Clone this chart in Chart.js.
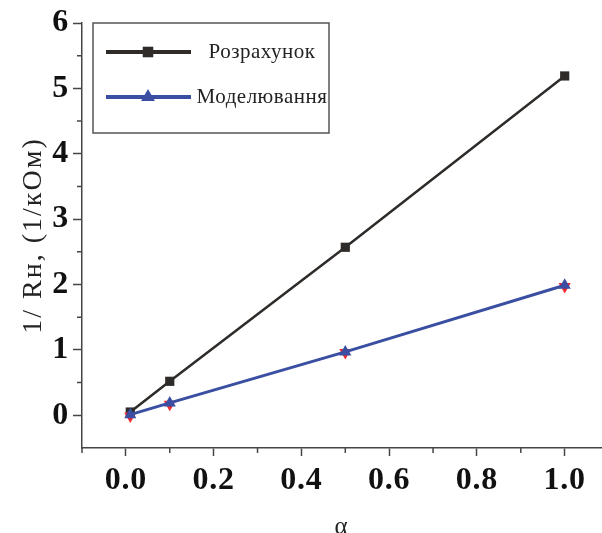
<!DOCTYPE html>
<html>
<head>
<meta charset="utf-8">
<script src="https://cdn.jsdelivr.net/npm/chart.js@4.4.1/dist/chart.umd.min.js"></script>
<style>
html, body { margin: 0; padding: 0; background: #fff; overflow: hidden; }
</style>
</head>
<body>
<canvas id="chart" width="602" height="533"></canvas>
<script>
// values
var alphas = [0.01, 0.1, 0.5, 1.0];
var calcValues = [0.05, 0.52, 2.57, 5.19];
var modelValues = [0.01, 0.19, 0.97, 1.99];
var modelValues2 = [-0.01, 0.17, 0.96, 1.97];
var xTicks = [0, 0.2, 0.4, 0.6, 0.8, 1.0];
var yTicks = [0, 1, 2, 3, 4, 5, 6];
var xMinorTicks = [-0.1, 0.1, 0.3, 0.5, 0.7, 0.9];
var yMinorTicks = [0.5, 1.5, 2.5, 3.5, 4.5, 5.5];
var seriesNames = ["Розрахунок", "Моделювання"];

function toPoints(xs, ys)
{
    var pts = [];
    for (var i = 0; i < xs.length; i++)
    {
        pts.push({x: xs[i], y: ys[i]});
    }
    return pts;
}

var axisColor = "#454545";
var serif = "'Liberation Serif', 'DejaVu Serif', serif";

// the original text is a bit wider than Liberation Serif
var wideText = {
    id: 'wideText',
    beforeDraw: function(chart) { chart.ctx.letterSpacing = "2px"; },
    beforeDatasetsDraw: function(chart) { chart.ctx.letterSpacing = "0px"; }
};

// tick labels get less spacing than the titles
function widenLabels(scale)
{
    if (scale._widened) return;
    scale._widened = true;
    var orig = scale.drawLabels;
    scale.drawLabels = function(area) {
        var old = this.ctx.letterSpacing;
        this.ctx.letterSpacing = "0.8px";
        orig.call(this, area);
        this.ctx.letterSpacing = old;
    };
}

// short ticks between the labelled ones
var minorTicks = {
    id: 'minorTicks',
    afterDraw: function(chart)
    {
        var ctx = chart.ctx;
        var xs = chart.scales.x, ys = chart.scales.y;
        ctx.save();
        ctx.strokeStyle = axisColor;
        ctx.lineWidth = 1.5;
        ctx.beginPath();
        xMinorTicks.forEach(function(v) {
            var px = xs.getPixelForValue(v);
            ctx.moveTo(px, chart.chartArea.bottom);
            ctx.lineTo(px, chart.chartArea.bottom + 5);
        });
        yMinorTicks.forEach(function(v) {
            var py = ys.getPixelForValue(v);
            ctx.moveTo(chart.chartArea.left, py);
            ctx.lineTo(chart.chartArea.left - 5, py);
        });
        ctx.stroke();
        ctx.restore();
    }
};

// boxed legend inside the plot
var boxLegend = {
    id: 'boxLegend',
    afterDraw: function(chart)
    {
        var ctx = chart.ctx;
        var left = chart.chartArea.left + 11;
        var top = chart.chartArea.top;
        ctx.save();
        ctx.strokeStyle = "#555";
        ctx.lineWidth = 1.5;
        ctx.strokeRect(left, top, 236, 110);
        [0, 1].forEach(function(r) {
            var ds = chart.data.datasets[r];
            var y = top + 29 + r * 45;
            ctx.strokeStyle = ds.borderColor;
            ctx.lineWidth = 4;
            ctx.beginPath();
            ctx.moveTo(left + 13, y);
            ctx.lineTo(left + 98, y);
            ctx.stroke();
            ctx.fillStyle = ds.pointBackgroundColor;
            Chart.helpers.drawPoint(ctx, {pointStyle: ds.pointStyle, rotation: 0, borderWidth: 0, radius: ds.pointRadius * 1.15}, left + 55, y);
            ctx.fillStyle = "#222";
            ctx.font = "21px " + serif;
            ctx.letterSpacing = "0.5px";
            ctx.textAlign = "center";
            ctx.textBaseline = "middle";
            ctx.fillText(seriesNames[r], left + 169, y);
            ctx.letterSpacing = "0px";
        });
        ctx.restore();
    }
};

var ctx = document.getElementById("chart").getContext('2d');
var chart = new Chart(ctx, {
    type: 'line',
    data: {
        datasets: [{
            label: seriesNames[0],
            data: toPoints(alphas, calcValues),
            borderColor: "#2e2b29",
            backgroundColor: "#2e2b29",
            pointBackgroundColor: "#2e2b29",
            pointBorderWidth: 0,
            pointStyle: 'rect',
            pointRadius: 6.5,
            borderWidth: 2.5,
            order: 3
        }, {
            label: seriesNames[1],
            data: toPoints(alphas, modelValues),
            borderColor: "#3a4fa2",
            backgroundColor: "#3a4fa2",
            pointBackgroundColor: "#3a4fa2",
            pointBorderWidth: 0,
            pointStyle: 'triangle',
            pointRadius: 7,
            borderWidth: 3,
            order: 1
        }, {
            data: toPoints(alphas, modelValues2),
            showLine: false,
            borderColor: "#f0282d",
            backgroundColor: "#f0282d",
            pointBackgroundColor: "#f0282d",
            pointBorderWidth: 0,
            pointStyle: 'triangle',
            pointRotation: 180,
            pointRadius: 7,
            order: 2
        }]
    },
    options: {
        responsive: false,
        animation: false,
        layout: { autoPadding: false, padding: { top: 23, right: 0, left: 0, bottom: 0 } },
        plugins: {
            legend: { display: false },
            tooltip: { enabled: false }
        },
        scales: {
            x: {
                type: 'linear',
                min: -0.1,
                max: 1.085,
                afterBuildTicks: function(scale) {
                    scale.ticks = xTicks.map(function(v) { return {value: v}; });
                },
                afterFit: function(scale) { scale.height = 85; widenLabels(scale); },
                ticks: {
                    padding: 9,
                    color: "#111",
                    font: { family: serif, size: 32, weight: 'bold', lineHeight: 1 },
                    callback: function(v) { return v.toFixed(1); }
                },
                grid: {
                    drawOnChartArea: false,
                    drawTicks: true,
                    tickLength: 8,
                    tickColor: axisColor,
                    tickWidth: 1.5
                },
                border: { display: true, color: axisColor, width: 1.5 },
                title: {
                    display: true,
                    text: "α",
                    color: "#222",
                    font: { family: serif, size: 25, lineHeight: 1 },
                    padding: { top: 0, bottom: -7 }
                }
            },
            y: {
                type: 'linear',
                min: -0.5,
                max: 6,
                afterBuildTicks: function(scale) {
                    scale.ticks = yTicks.map(function(v) { return {value: v}; });
                },
                afterFit: function(scale) { scale.width = 82; widenLabels(scale); },
                ticks: {
                    padding: 4,
                    color: "#111",
                    font: { family: serif, size: 32, weight: 'bold', lineHeight: 1 },
                    callback: function(v) { return v.toFixed(0); }
                },
                grid: {
                    drawOnChartArea: false,
                    drawTicks: true,
                    tickLength: 9,
                    tickColor: axisColor,
                    tickWidth: 1.5
                },
                border: { display: true, color: axisColor, width: 1.5 },
                title: {
                    display: true,
                    text: "1/ Rн, (1/кОм)",
                    color: "#222",
                    font: { family: serif, size: 28, lineHeight: 1 },
                    padding: { top: 20, bottom: 0 }
                }
            }
        }
    },
    plugins: [wideText, minorTicks, boxLegend]
});
</script>
</body>
</html>
